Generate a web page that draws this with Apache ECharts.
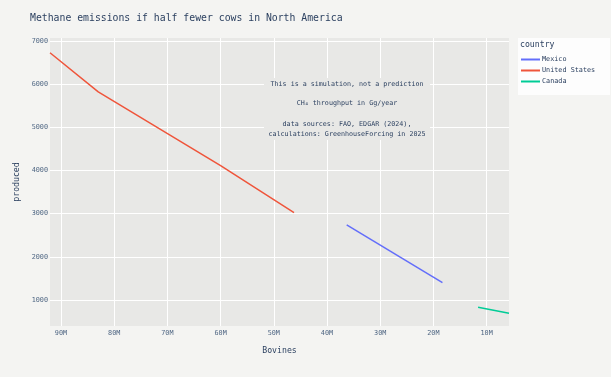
<!DOCTYPE html>
<html>
<head>
<meta charset="utf-8">
<script src="https://cdn.jsdelivr.net/npm/echarts@6/dist/echarts.min.js"></script>
<style>
  html, body { margin: 0; padding: 0; background: #f4f4f2; }
  #main { width: 611px; height: 377px; }
</style>
</head>
<body>
<div id="main"></div>
<script>
// data (bovines -> CH4 produced, Gg/year)
var countries = ['Mexico', 'United States', 'Canada'];
var colors = ['#636efa', '#EF553B', '#00cc96'];
var mexicoX = [36.3e6, 18.3e6];
var mexicoY = [2737, 1402];
var usX = [92.07e6, 83e6, 60e6, 46.2e6];
var usY = [6728, 5821, 4110, 3023];
var canadaX = [11.6e6, 5.79e6];
var canadaY = [830, 691];
var xTicks = [10e6, 20e6, 30e6, 40e6, 50e6, 60e6, 70e6, 80e6, 90e6];
var yTicks = [1000, 2000, 3000, 4000, 5000, 6000, 7000];

var font = '"DejaVu Sans Mono", monospace';
var ink = '#2a3f5f';

function pairs(xs, ys) {
  return xs.map(function (v, i) { return [v, ys[i]]; });
}

var chart = echarts.init(document.getElementById('main'));
var option = {
  backgroundColor: '#f4f4f2',
  animation: false,
  title: {
    text: 'Methane emissions if half fewer cows in North America',
    left: 25,
    top: 8,
    textStyle: { fontFamily: font, fontSize: 9.8, fontWeight: 'normal', color: ink }
  },
  grid: {
    left: 50, right: 102, top: 38, bottom: 51,
    show: true, backgroundColor: '#e8e8e6', borderWidth: 0
  },
  xAxis: {
    type: 'value',
    inverse: true,
    min: 5.79e6,
    max: 92.07e6,
    name: 'Bovines',
    nameLocation: 'middle',
    nameGap: 21,
    nameTextStyle: { fontFamily: font, fontSize: 8.2, color: ink },
    axisLine: { show: false },
    axisTick: { show: false, customValues: xTicks },
    axisLabel: {
      customValues: xTicks,
      fontFamily: font, fontSize: 6.8, color: '#506784', margin: 4,
      formatter: function (v) { return Math.round(v / 1e6) + 'M'; }
    },
    splitLine: { show: true, lineStyle: { color: '#ffffff', width: 1 } }
  },
  yAxis: {
    type: 'value',
    min: 395,
    max: 7070,
    name: 'produced',
    nameLocation: 'middle',
    nameGap: 28,
    nameTextStyle: { fontFamily: font, fontSize: 8.2, color: ink },
    axisLine: { show: false },
    axisTick: { show: false, customValues: yTicks },
    axisLabel: {
      customValues: yTicks,
      fontFamily: font, fontSize: 6.8, color: '#506784', margin: 2,
      formatter: function (v) { return String(v); }
    },
    splitLine: { show: true, lineStyle: { color: '#ffffff', width: 1 } }
  },
  legend: {
    orient: 'vertical',
    left: 516,
    top: 51,
    itemGap: 4,
    itemWidth: 19,
    itemHeight: 2,
    icon: 'rect',
    data: countries,
    textStyle: { fontFamily: font, fontSize: 6.8, color: ink, padding: [0, 0, 0, -3] }
  },
  graphic: [
    { type: 'rect', left: 518, top: 38, shape: { width: 92, height: 57 }, style: { fill: '#fdfdfd' }, z: -1 },
    { type: 'text', left: 520, top: 41, style: { text: 'country', font: '8.2px ' + font, fill: ink } },
    { type: 'rect', left: 264, top: 78, shape: { width: 166, height: 62 }, style: { fill: '#e8e8e6' }, z: 5 },
    { type: 'text', x: 347, y: 81, z: 6, style: { text: 'This is a simulation, not a prediction', font: '6.7px ' + font, fill: ink, textAlign: 'center', textVerticalAlign: 'top' } },
    { type: 'text', x: 347, y: 100, z: 6, style: { text: 'CH₄ throughput in Gg/year', font: '6.7px ' + font, fill: ink, textAlign: 'center', textVerticalAlign: 'top' } },
    { type: 'text', x: 347, y: 119, z: 6, style: { text: 'data sources: FAO, EDGAR (2024),\ncalculations: GreenhouseForcing in 2025', font: '6.7px ' + font, fill: ink, align: 'center', verticalAlign: 'top', lineHeight: 10 } }
  ],
  series: [
    { name: countries[0], type: 'line', data: pairs(mexicoX, mexicoY), showSymbol: false, color: colors[0], lineStyle: { width: 1.5 } },
    { name: countries[1], type: 'line', data: pairs(usX, usY), showSymbol: false, color: colors[1], lineStyle: { width: 1.5 } },
    { name: countries[2], type: 'line', data: pairs(canadaX, canadaY), showSymbol: false, color: colors[2], lineStyle: { width: 1.5 } }
  ]
};
chart.setOption(option);
</script>
</body>
</html>
